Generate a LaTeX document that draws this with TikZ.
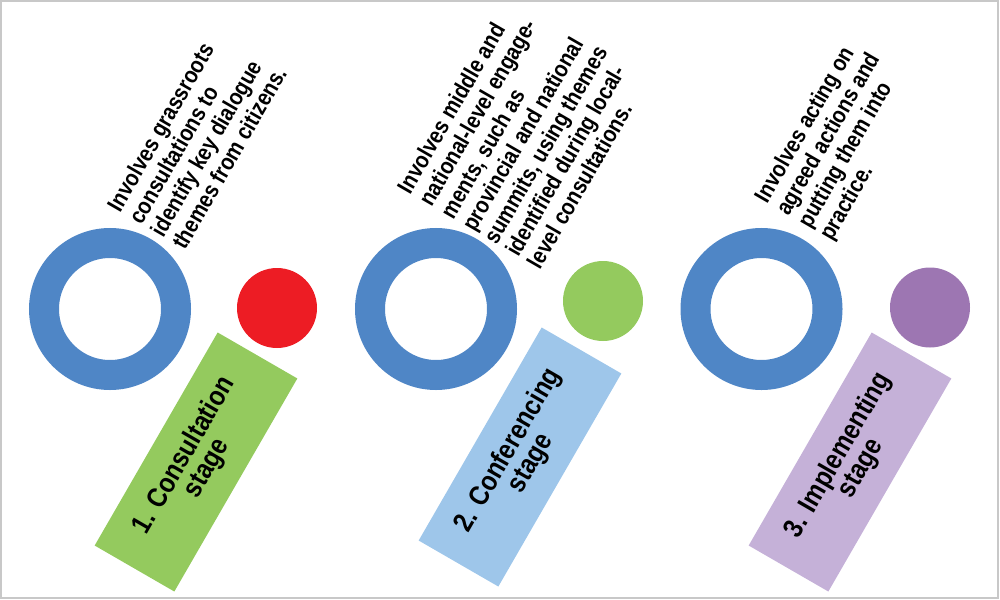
\documentclass[tikz,border=0pt]{standalone}
\usepackage{fontspec}
\setmainfont{Liberation Sans}
\newfontfamily\narrowsans{Liberation Sans}[FakeStretch=0.86]
\definecolor{framegray}{HTML}{C8C8C8}
\definecolor{ringblue}{HTML}{4F86C6}
\definecolor{dotred}{HTML}{ED1C24}
\definecolor{dotgreen}{HTML}{94CA5E}
\definecolor{dotpurple}{HTML}{9D76B2}
\definecolor{boxgreen}{HTML}{94CA5E}
\definecolor{boxblue}{HTML}{9EC6EA}
\definecolor{boxpurple}{HTML}{C5B1D8}

\begin{document}
\begin{tikzpicture}
[
	              x = 0.75pt,
	              y = -0.75pt,
	    ring/.style = { circle, draw=ringblue, line width=22.5pt, minimum size=99pt, inner sep=0pt },
	     dot/.style = { circle, minimum size=60pt, inner sep=0pt },
	stagebox/.style = { rotate=60, minimum width=184.5pt, minimum height=69pt, inner sep=0pt,
	                    align=center, font=\narrowsans\bfseries\fontsize{21}{19.5}\selectfont },
	    note/.style = { rotate=60, anchor=north west, inner sep=0pt, align=left,
	                    font=\narrowsans\bfseries\fontsize{17.5}{18.75}\selectfont }
]
	\useasboundingbox (0,0) rectangle (1000,600);
	\draw [framegray, line width=1.5pt] (1,1) rectangle (998,598);

	% rings
	\node (ring1) at (110,309)   [ring] {};
	\node (ring2) at (436,309)   [ring] {};
	\node (ring3) at (761.5,309) [ring] {};

	% dots
	\node (dot1) at (277,308)   [dot, fill=dotred]    {};
	\node (dot2) at (603,301)   [dot, fill=dotgreen]  {};
	\node (dot3) at (930,307.5) [dot, fill=dotpurple] {};

	% stages
	\node (stage1) at (196,462) [stagebox, fill=boxgreen]  {1. Consultation\\stage};
	\node (stage2) at (520,457) [stagebox, fill=boxblue]   {2. Conferencing\\stage};
	\node (stage3) at (850,462) [stagebox, fill=boxpurple] {3. Implementing\\stage};

	% notes
	\node (note1) at (105,205) [note] {Involves grassroots\\consultations to\\identify key dialogue\\themes from citizens.};
	\node (note2) at (395,187) [note] {Involves middle and\\national-level engage-\\ments, such as\\provincial and national\\summits, using themes\\identified during local-\\level consultations.};
	\node (note3) at (752,196) [note] {Involves acting on\\agreed actions and\\putting them into\\practice.};

\end{tikzpicture}
\end{document}
